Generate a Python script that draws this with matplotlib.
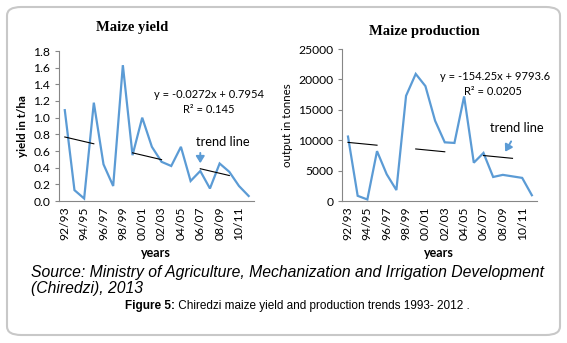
import matplotlib
matplotlib.use("Agg")
import matplotlib.pyplot as plt
import numpy as np
from matplotlib.patches import FancyBboxPatch

# seasons 1992/93 .. 2011/12
seasons = ["92/93", "93/94", "94/95", "95/96", "96/97", "97/98", "98/99",
           "99/00", "00/01", "01/02", "02/03", "03/04", "04/05", "05/06",
           "06/07", "07/08", "08/09", "09/10", "10/11", "11/12"]

# maize yield, t/ha
yield_tha = [1.09, 0.13, 0.03, 1.18, 0.44, 0.18, 1.63, 0.55, 1.00, 0.65,
             0.47, 0.42, 0.65, 0.24, 0.36, 0.15, 0.45, 0.35, 0.18, 0.06]

# maize production, tonnes
production_t = [10600, 850, 250, 8200, 4400, 1800, 17300, 20900, 18900, 13200,
                9650, 9550, 17200, 6300, 7900, 3950, 4300, 4050, 3800, 950]

# excel linear trend lines (slope, intercept, r2), x = 1..n
yield_fit = (-0.0272, 0.7954, 0.145)
prod_fit = (-154.25, 9793.6, 0.0205)

W, H = 567, 343
LINE = "#5B9BD5"
SPINE = "#868686"

fig = plt.figure(figsize=(W / 100, H / 100), dpi=100)


def px(x, y):
    return x / W, 1 - y / H


def setup(ax, values, fit, ymax, ystep, yfmt, ylabel, yweight):
    idx = np.arange(len(values))
    ax.plot(idx, values, color=LINE, lw=1.6, solid_joinstyle="miter")
    # dashed trend line: 3 categories on, 4 off
    m, b, _ = fit
    for s in range(0, len(values), 7):
        seg = np.arange(s, min(s + 3, len(values) - 1) + 1)
        ax.plot(seg, m * (seg + 1) + b, color="black", lw=0.8)
    ax.set_xlim(-0.65, len(values) - 0.5)
    ax.set_ylim(0, ymax)
    yt = np.arange(0, ymax + ystep / 2, ystep)
    ax.set_yticks(yt)
    ax.set_yticklabels([yfmt.format(v) for v in yt], fontsize=8.7, family="Lato")
    ax.set_xticks(idx[::2])
    ax.set_xticklabels(seasons[::2], rotation=90, fontsize=8.7, family="Lato")
    ax.tick_params(axis="x", length=0, pad=4)
    ax.tick_params(axis="y", length=3, color=SPINE, pad=3)
    for s in ["top", "right"]:
        ax.spines[s].set_visible(False)
    for s in ["left", "bottom"]:
        ax.spines[s].set_color(SPINE)
        ax.spines[s].set_linewidth(0.8)
    ax.set_ylabel(ylabel, fontsize=8.3, fontweight=yweight, family="Lato", labelpad=4)
    ax.set_xlabel("years", fontsize=9, fontweight="bold", family="Lato", labelpad=5)


ax1 = fig.add_axes([58.5 / W, 1 - 201 / H, 195 / W, 150 / H])
setup(ax1, yield_tha, yield_fit, 1.8, 0.2, "{:.1f}", "yield in t/ha", "bold")
ax2 = fig.add_axes([341.7 / W, 1 - 201 / H, 195 / W, 152 / H])
setup(ax2, production_t, prod_fit, 25000, 5000, "{:.0f}", "output in tonnes", "normal")

# titles
fig.text(*px(132, 27), "Maize yield", ha="center", va="center",
         fontsize=10.5, fontweight="bold", family="Liberation Serif")
fig.text(*px(424, 32), "Maize production", ha="center", va="center",
         fontsize=10.5, fontweight="bold", family="Liberation Serif")

# trend equations
eq_style = dict(ha="center", va="center", fontsize=8, family="Lato")
fig.text(*px(209, 95), "y = {:.4f}x + {:.4f}".format(yield_fit[0], yield_fit[1]), **eq_style)
fig.text(*px(209, 109), "R² = {}".format(yield_fit[2]), **eq_style)
fig.text(*px(495, 76), "y = {:.2f}x + {:.1f}".format(prod_fit[0], prod_fit[1]), **eq_style)
fig.text(*px(493, 91), "R² = {}".format(prod_fit[2]), **eq_style)

# trend line callouts
fig.text(*px(223, 142), "trend line", ha="center", va="center", fontsize=9.3, family="Lato")
fig.text(*px(517, 128), "trend line", ha="center", va="center", fontsize=9.3, family="Lato")
ax1.annotate("", xy=(14, 0.42), xytext=(14, 0.61),
             arrowprops=dict(arrowstyle="-|>,head_width=0.25,head_length=0.4",
                             color=LINE, lw=1.4))
ax2.annotate("", xy=(16.1, 7700), xytext=(17.0, 10200),
             arrowprops=dict(arrowstyle="-|>,head_width=0.25,head_length=0.4",
                             color=LINE, lw=1.4))

# caption
cap = dict(ha="left", va="center", fontsize=11.3, style="italic", family="Liberation Sans")
fig.text(31 / W, 1 - 272 / H,
         "Source: Ministry of Agriculture, Mechanization and Irrigation Development", **cap)
fig.text(31 / W, 1 - 288 / H, "(Chiredzi), 2013", **cap)

bold_part = fig.text(125 / W, 1 - 306 / H, "Figure 5:", ha="left", va="center",
                     fontsize=8.5, fontweight="bold", family="Liberation Sans")
plt.annotate(" Chiredzi maize yield and production trends 1993- 2012 .",
             xy=(1, 0.5), xycoords=bold_part, ha="left", va="center",
             fontsize=8.5, family="Liberation Sans", annotation_clip=False)

# rounded frame
frame = FancyBboxPatch((7 / W, 1 - 335 / H), 553 / W, 328 / H,
                       boxstyle="round,pad=0,rounding_size=0.025",
                       transform=fig.transFigure, fill=False,
                       edgecolor="#C8C8C8", lw=1.5)
fig.patches.append(frame)

fig.savefig("out.png", dpi=100)
